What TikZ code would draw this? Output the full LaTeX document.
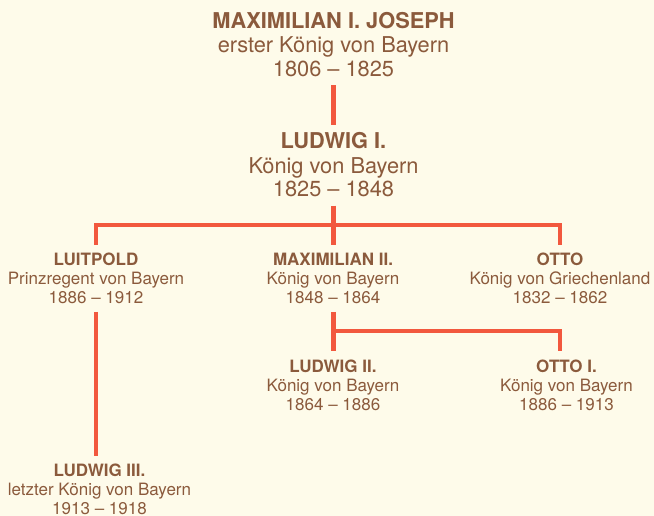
\documentclass[tikz,border=0pt]{standalone}
\usepackage{fontspec}
\setmainfont{TeX Gyre Heros}
\usetikzlibrary{calc}
\definecolor{bgcol}{HTML}{FEFBEA}
\definecolor{txtcol}{HTML}{8B5A3C}
\definecolor{lncol}{HTML}{F2583E}
\tikzset{
  big/.style={anchor=base, align=center, text=txtcol, inner xsep=0pt, inner ysep=8pt,
    font=\fontsize{21.8pt}{24pt}\selectfont},
  small/.style={anchor=base, align=center, text=txtcol, inner xsep=0pt, inner ysep=8pt,
    font=\fontsize{17pt}{19pt}\selectfont},
  conn/.style={draw=lncol, line width=4.5pt}
}
\begin{document}
\begin{tikzpicture}[x=1pt,y=-1pt]
\fill[bgcol] (0,0) rectangle (654,516);
\useasboundingbox (0,0) rectangle (654,516);

\node[big] (max1) at (333.5,76.5) {\textbf{MAXIMILIAN I. JOSEPH}\\erster König von Bayern\\1806 – 1825};
\node[big] (lud1) at (333.5,197) {\textbf{LUDWIG I.}\\König von Bayern\\1825 – 1848};

\node[small] (luitpold) at (96,303.5) {\textbf{LUITPOLD}\\Prinzregent von Bayern\\1886 – 1912};
\node[small] (max2) at (333,303.5) {\textbf{MAXIMILIAN II.}\\König von Bayern\\1848 – 1864};
\node[small] (otto) at (560,303.5) {\textbf{OTTO}\\König von Griechenland\\1832 – 1862};

\node[small] (lud2) at (333,410) {\textbf{LUDWIG II.}\\König von Bayern\\1864 – 1886};
\node[small] (ottoI) at (566.5,410) {\textbf{OTTO I.}\\König von Bayern\\1886 – 1913};

\node[small] (lud3) at (99.5,514.5) {\textbf{LUDWIG III.}\\letzter König von Bayern\\1913 – 1918};

\coordinate (j1) at ($(lud1.south)+(0,19.5)$);
\coordinate (j2) at ($(max2.south)+(0,19)$);

\draw[conn] (max1) -- (lud1);
\draw[conn] (lud1.south) -- (j1);
\draw[conn] (luitpold.north) |- (j1) -| (otto.north);
\draw[conn] (j1) -- (max2.north -| j1);
\draw[conn] (max2.south -| j1) -- (lud2.north -| j1);
\draw[conn] (j2 -| j1) -| (ottoI.north -| otto.north);
\draw[conn] (luitpold.south) -- (lud3.north -| luitpold.south);
\end{tikzpicture}
\end{document}
